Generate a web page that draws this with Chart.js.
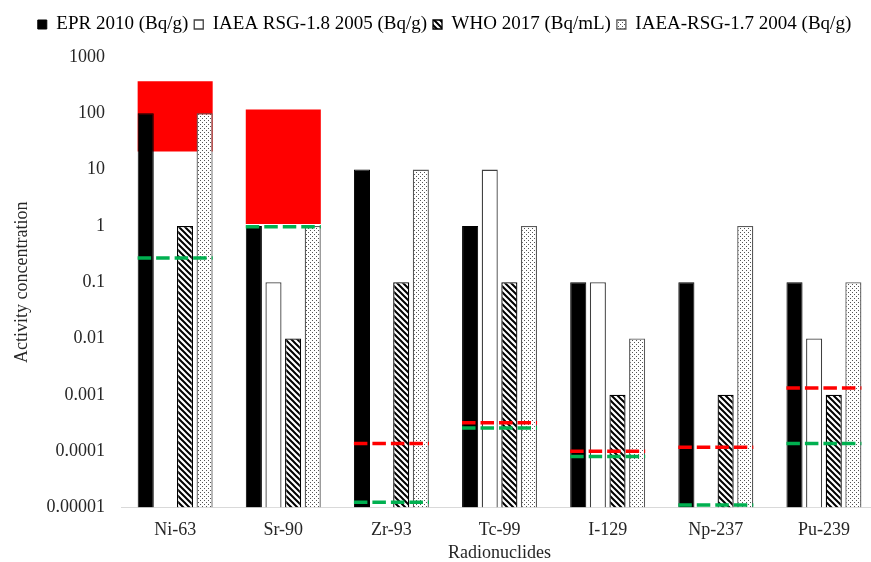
<!DOCTYPE html>
<html>
<head>
<meta charset="utf-8">
<script src="https://cdn.jsdelivr.net/npm/chart.js@4.4.0/dist/chart.umd.min.js"></script>
<style>
  html, body { margin: 0; padding: 0; background: #fff; overflow: hidden; }
  #wrap { width: 878px; height: 562px; }
</style>
</head>
<body>
<div id="wrap"><canvas id="chart"></canvas></div>
<script>
// categories and series
const nuclides = ['Ni-63', 'Sr-90', 'Zr-93', 'Tc-99', 'I-129', 'Np-237', 'Pu-239'];
const epr2010 = [100, 1, 10, 1, 0.1, 0.1, 0.1];
const rsg18 = [null, 0.1, null, 10, 0.1, null, 0.01];
const who2017 = [1, 0.01, 0.1, 0.1, 0.001, 0.001, 0.001];
const rsg17 = [100, 1, 10, 1, 0.01, 1, 0.1];

// red ranges behind Ni-63 and Sr-90
const redRange = [[21, 370], [1.08, 117], null, null, null, null, null];
// dashed reference levels
const redLine = [null, null, 1.36e-4, 3.2e-4, 9.9e-5, 1.17e-4, 1.32e-3];
const greenLine = [0.27, 0.97, 1.23e-5, 2.57e-4, 8.0e-5, 1.1e-5, 1.36e-4];

const yTicks = [0.00001, 0.0001, 0.001, 0.01, 0.1, 1, 10, 100, 1000];
const yTickLabels = ['0.00001', '0.0001', '0.001', '0.01', '0.1', '1', '10', '100', '1000'];

const FAMILY = "'Liberation Serif', 'Times New Roman', serif";
const FONT = { family: FAMILY, size: 18 };
const TITLE_FONT = { family: FAMILY, size: 18, lineHeight: 1 };
const LEGEND_FONT = { family: FAMILY, size: 19 };
const TEXT_COLOR = '#262626';
const CAT_PCT = 0.726;
const BAR_PCT = 0.82;
const BOX_PCT = 0.694;

function makePattern(draw, w, h) {
  const c = document.createElement('canvas');
  c.width = w; c.height = h;
  const g = c.getContext('2d');
  g.fillStyle = '#fff';
  g.fillRect(0, 0, w, h);
  draw(g);
  return document.getElementById('chart').getContext('2d').createPattern(c, 'repeat');
}

const hatch = makePattern(g => {
  g.strokeStyle = '#000';
  g.lineWidth = 2;
  g.beginPath();
  g.moveTo(-1, -1); g.lineTo(7, 7);
  g.moveTo(-7, -1); g.lineTo(1, 7);
  g.moveTo(5, -1); g.lineTo(13, 7);
  g.stroke();
}, 6, 6);

const dots = makePattern(g => {
  g.fillStyle = '#555';
  g.fillRect(0, 0, 1, 1);
  g.fillRect(2, 2, 1, 1);
}, 4, 4);

// extra room under the legend
const legendGap = {
  id: 'legendGap',
  beforeInit(chart) {
    const fit = chart.legend.fit;
    chart.legend.fit = function () {
      fit.call(this);
      this.height += 13;
    };
  }
};

const limitLines = {
  id: 'limitLines',
  afterDatasetsDraw(chart) {
    const { ctx, scales: { x, y } } = chart;
    const half = x.width / nuclides.length * BOX_PCT / 2;
    ctx.save();
    ctx.lineWidth = 3.5;
    ctx.setLineDash([13.5, 5]);
    [[redLine, '#ff0000'], [greenLine, '#00b050']].forEach(([vals, col]) => {
      ctx.strokeStyle = col;
      vals.forEach((v, i) => {
        if (v == null) return;
        const cx = x.getPixelForValue(i);
        const py = y.getPixelForValue(v);
        ctx.beginPath();
        ctx.moveTo(cx - half, py);
        ctx.lineTo(cx + half, py);
        ctx.stroke();
      });
    });
    ctx.restore();
  }
};

const barCommon = { categoryPercentage: CAT_PCT, barPercentage: BAR_PCT, borderWidth: 1, order: 1 };

new Chart(document.getElementById('chart'), {
  type: 'bar',
  data: {
    labels: nuclides,
    datasets: [
      { ...barCommon, label: 'EPR 2010 (Bq/g)', data: epr2010, backgroundColor: '#000', borderColor: '#000' },
      { ...barCommon, label: 'IAEA RSG-1.8 2005 (Bq/g)', data: rsg18, backgroundColor: '#fff', borderColor: '#404040', borderWidth: 1.3 },
      { ...barCommon, label: 'WHO 2017 (Bq/mL)', data: who2017, backgroundColor: hatch, borderColor: '#000', borderWidth: 1.3 },
      { ...barCommon, label: 'IAEA-RSG-1.7 2004 (Bq/g)', data: rsg17, backgroundColor: dots, borderColor: '#595959', borderWidth: 1.3 },
      {
        label: 'range', data: redRange, backgroundColor: '#ff0000', borderWidth: 0,
        grouped: false, categoryPercentage: BOX_PCT, barPercentage: 1, order: 10
      }
    ]
  },
  options: {
    responsive: true,
    maintainAspectRatio: false,
    animation: false,
    layout: { padding: { top: 9, left: 11, right: 0, bottom: 0 } },
    scales: {
      x: {
        grid: { display: false, drawTicks: false },
        border: { display: true, color: '#d9d9d9', width: 1 },
        ticks: { font: FONT, color: TEXT_COLOR, padding: 12 },
        title: { display: true, text: 'Radionuclides', font: TITLE_FONT, color: TEXT_COLOR, padding: { top: -9, bottom: 0 } }
      },
      y: {
        type: 'logarithmic',
        min: 0.00001,
        max: 1000,
        afterBuildTicks: scale => { scale.ticks = yTicks.map(v => ({ value: v })); },
        grid: { display: false, drawTicks: false },
        border: { display: false },
        ticks: { font: FONT, color: TEXT_COLOR, padding: 16, callback: (v, i) => yTickLabels[i] },
        title: { display: true, text: 'Activity concentration', font: FONT, color: TEXT_COLOR, padding: { top: 0, bottom: -2 } }
      }
    },
    plugins: {
      legend: {
        position: 'top',
        labels: {
          font: LEGEND_FONT,
          color: '#000',
          boxWidth: 9,
          boxHeight: 9,
          padding: 6,
          filter: item => item.text !== 'range'
        }
      },
      tooltip: { enabled: false }
    }
  },
  plugins: [legendGap, limitLines]
});
</script>
</body>
</html>
